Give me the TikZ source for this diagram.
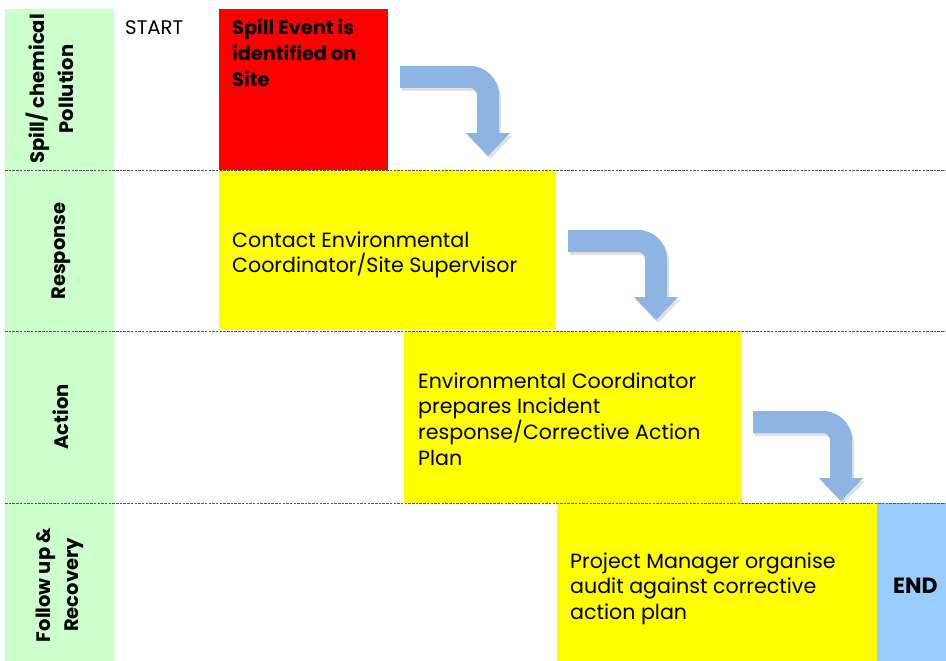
\documentclass[tikz,border=0pt]{standalone}
\usepackage{fontspec}
\setmainfont{Poppins}
\definecolor{lanegreen}{HTML}{CCFFCC}
\definecolor{spillred}{HTML}{FF0000}
\definecolor{stepyellow}{HTML}{FFFF00}
\definecolor{endblue}{HTML}{99CCFF}
\definecolor{arrowblue}{HTML}{8EB4E3}
\definecolor{sepgray}{HTML}{555555}
\newcommand{\boxlines}[1]{\parbox[t]{330pt}{\raggedright #1}}
\tikzset{
  blockbox/.style={inner sep=0pt, outer sep=0pt, anchor=north west, draw=none},
  bodytext/.style={inner sep=0pt, anchor=base west, font=\fontsize{20.6}{25.8}\selectfont},
  boldtext/.style={inner sep=0pt, anchor=base west, font=\fontsize{19.3}{26}\selectfont\bfseries},
  lanelabel/.style={rotate=90, align=center, inner sep=0pt, font=\fontsize{19.5}{28.5}\selectfont\bfseries},
  lanesep/.style={draw=sepgray, line width=1pt, dash pattern=on 2.5pt off 1.2pt},
  bent/.pic={
    \fill[black, opacity=0.12, shift={(2,3)}]
      (0,0) -- (70,0) .. controls (86,0) and (99,13) .. (99,29) -- (99,67) -- (110,67)
      -- (88,90) -- (66,67) -- (77,67) -- (77,29) .. controls (77,25) and (74,22) .. (70,22)
      -- (0,22) -- cycle;
    \fill[arrowblue]
      (0,0) -- (70,0) .. controls (86,0) and (99,13) .. (99,29) -- (99,67) -- (110,67)
      -- (88,90) -- (66,67) -- (77,67) -- (77,29) .. controls (77,25) and (74,22) .. (70,22)
      -- (0,22) -- cycle;
  }
}
\begin{document}
\begin{tikzpicture}[x=1pt,y=-1pt]
\useasboundingbox (0,0) rectangle (946,661);
\fill[white] (0,0) rectangle (946,661);
% lane header column
\node[blockbox, fill=lanegreen, minimum width=109pt, minimum height=652pt] (header) at (5,9) {};
% boxes
\node[blockbox, fill=spillred, minimum width=169pt, minimum height=161pt] (spill) at (219,9) {};
\node[blockbox, fill=stepyellow, minimum width=337pt, minimum height=160pt] (contact) at (219,170) {};
\node[blockbox, fill=stepyellow, minimum width=337pt, minimum height=172pt] (prepare) at (404,331) {};
\node[blockbox, fill=stepyellow, minimum width=320pt, minimum height=158pt] (audit) at (557,503) {};
\node[blockbox, fill=endblue, minimum width=69pt, minimum height=158pt] (endbox) at (877,503) {};
% lane separators
\draw[lanesep] (5,170) -- (946,170);
\draw[lanesep] (5,331) -- (946,331);
\draw[lanesep] (5,503) -- (946,503);
% lane labels
\node[lanelabel] (lane1) at (50,89) {Spill/ chemical\\Pollution};
\node[lanelabel] (lane2) at (61,251) {Response};
\node[lanelabel] (lane3) at (61,417) {Action};
\node[lanelabel] (lane4) at (60,585) {Follow up \&\\Recovery};
% texts
\node[bodytext, font=\fontsize{19.7}{25}\selectfont] (start) at (125,35) {START};
\node[boldtext] (spilltxt) at (232,35) {\boxlines{Spill Event is\\identified on\\Site}};
\node[bodytext] (contacttxt) at (232,247) {\boxlines{Contact Environmental\\Coordinator/Site Supervisor}};
\node[bodytext] (preparetxt) at (418,388) {\boxlines{Environmental Coordinator\\prepares Incident\\response/Corrective Action\\Plan}};
\node[bodytext] (audittxt) at (570,568) {\boxlines{Project Manager organise\\audit against corrective\\action plan}};
\node[boldtext, font=\fontsize{22}{26}\selectfont\bfseries] (endtxt) at (893,593) {END};
% bent arrows
\pic at (400,66) {bent};
\pic at (568,230) {bent};
\pic at (753,411) {bent};
\end{tikzpicture}
\end{document}
